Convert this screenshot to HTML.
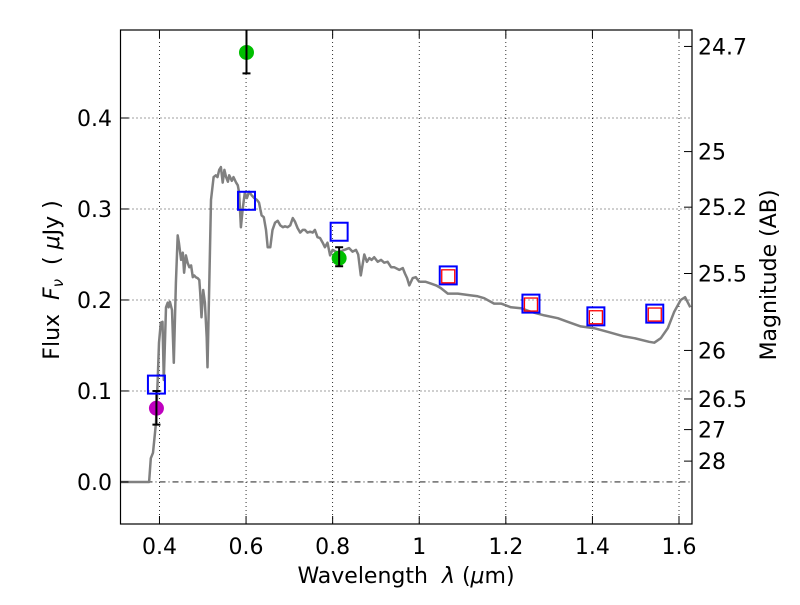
<!DOCTYPE html>
<html><head><meta charset="utf-8"><style>
body{margin:0;background:#fff;}
svg text{font-family:"DejaVu Sans","Liberation Sans",sans-serif;fill:#000;white-space:pre;}
</style></head><body>
<svg id="chart" width="800" height="600" xmlns="http://www.w3.org/2000/svg">
<rect x="0" y="0" width="800" height="600" fill="#fff"/>
<g id="grid"></g>
<g id="spec"></g>
<g id="marks"></g>
<rect x="120.5" y="30" width="571.5" height="494" fill="none" stroke="#000" stroke-width="1.2"/>
<g id="ticks"></g>
<text x="406" y="583" font-size="22" text-anchor="middle">Wavelength  <tspan font-style="italic">λ</tspan> (<tspan font-style="italic">μ</tspan>m)</text>
<text transform="translate(59,280) rotate(-90)" font-size="22" text-anchor="middle">Flux  <tspan font-style="italic">F</tspan><tspan font-style="italic" font-size="15" dy="4">ν</tspan><tspan dy="-4">  ( </tspan><tspan font-style="italic">μ</tspan>Jy )</text>
<text transform="translate(776,275) rotate(-90)" font-size="22" text-anchor="middle">Magnitude (AB)</text>
</svg>
<script>
const xTicks=[0.4,0.6,0.8,1.0,1.2,1.4,1.6];
const xTickLabels=["0.4","0.6","0.8","1","1.2","1.4","1.6"];
const yTicks=[0.0,0.1,0.2,0.3,0.4];
const yTickLabels=["0.0","0.1","0.2","0.3","0.4"];
const magTicks=[24.7,25,25.2,25.5,26,26.5,27,28];
const magTickLabels=["24.7","25","25.2","25.5","26","26.5","27","28"];
const specWave=[0.31,0.376,0.380,0.385,0.392,0.396,0.399,0.403,0.407,0.410,0.415,0.419,0.421,0.424,0.429,0.433,0.438,0.442,0.445,0.450,0.454,0.457,0.461,0.465,0.469,0.473,0.477,0.480,0.484,0.488,0.492,0.494,0.497,0.501,0.505,0.509,0.511,0.515,0.519,0.525,0.530,0.534,0.538,0.542,0.546,0.550,0.554,0.558,0.561,0.567,0.571,0.577,0.581,0.584,0.588,0.592,0.597,0.602,0.607,0.613,0.619,0.625,0.630,0.636,0.641,0.646,0.650,0.656,0.661,0.667,0.673,0.679,0.685,0.690,0.696,0.702,0.708,0.713,0.719,0.725,0.731,0.736,0.742,0.748,0.754,0.759,0.765,0.771,0.777,0.782,0.788,0.794,0.800,0.812,0.827,0.838,0.846,0.854,0.859,0.865,0.873,0.879,0.885,0.890,0.896,0.904,0.912,0.919,0.927,0.935,0.942,0.954,0.962,0.967,0.972,0.977,0.985,0.992,1.000,1.015,1.027,1.039,1.050,1.066,1.089,1.104,1.119,1.135,1.150,1.173,1.189,1.212,1.235,1.258,1.289,1.320,1.343,1.373,1.404,1.435,1.473,1.497,1.531,1.543,1.558,1.574,1.589,1.604,1.614,1.626];
const specFlux=[0,0,0.026,0.032,0.065,0.112,0.153,0.175,0.176,0.112,0.192,0.197,0.192,0.198,0.189,0.131,0.219,0.271,0.263,0.244,0.252,0.230,0.249,0.241,0.236,0.238,0.225,0.227,0.225,0.224,0.222,0.208,0.181,0.211,0.197,0.159,0.126,0.219,0.310,0.335,0.337,0.335,0.343,0.346,0.329,0.343,0.335,0.330,0.337,0.331,0.335,0.329,0.326,0.318,0.280,0.299,0.318,0.312,0.319,0.315,0.312,0.310,0.307,0.293,0.291,0.277,0.258,0.258,0.277,0.285,0.287,0.282,0.280,0.281,0.280,0.282,0.290,0.286,0.279,0.274,0.277,0.277,0.274,0.275,0.274,0.277,0.269,0.268,0.263,0.258,0.263,0.249,0.255,0.252,0.255,0.257,0.253,0.255,0.250,0.227,0.250,0.242,0.246,0.244,0.247,0.242,0.244,0.241,0.242,0.236,0.236,0.233,0.235,0.229,0.224,0.216,0.224,0.225,0.220,0.220,0.218,0.216,0.213,0.207,0.207,0.206,0.205,0.204,0.202,0.196,0.196,0.192,0.191,0.187,0.183,0.180,0.176,0.171,0.169,0.165,0.160,0.158,0.154,0.153,0.158,0.169,0.187,0.200,0.203,0.192,0.180];
const obsWave=[0.393,0.601,0.815];
const obsFlux=[0.081,0.472,0.246];
const obsLow=[0.063,0.449,0.237];
const obsHigh=[0.100,0.500,0.258];
const obsColor=["#bf00bf","#00bf00","#00bf00"];
const modelWave=[0.393,0.601,0.815,1.067,1.258,1.408,1.544];
const modelFlux=[0.107,0.309,0.275,0.227,0.196,0.182,0.185];
const nirWave=[1.067,1.258,1.408,1.544];
const nirFlux=[0.226,0.195,0.181,0.184];

const X0=120.5,X1=692,XMIN=0.31,XMAX=1.63;
const Y0=524,Y1=30,YMIN=-0.0462,YMAX=0.4967;
const sx=v=>X0+(v-XMIN)/(XMAX-XMIN)*(X1-X0);
const sy=v=>Y0-(v-YMIN)/(YMAX-YMIN)*(Y0-Y1);
const magToFlux=m=>Math.pow(10,(23.9-m)/2.5);
const NS="http://www.w3.org/2000/svg";
function mk(parent,tag,attrs){const e=document.createElementNS(NS,tag);for(const k in attrs)e.setAttribute(k,attrs[k]);parent.appendChild(e);return e;}
const grid=document.getElementById('grid'),ticks=document.getElementById('ticks');
xTicks.forEach((t,i)=>{
  const x=sx(t);
  const g=mk(grid,'line',{x1:x,x2:x,y1:Y1,y2:Y0,stroke:'#000','stroke-width':0.8,'stroke-dasharray':'1,3'});
  
  
  mk(ticks,'line',{x1:x,x2:x,y1:Y0,y2:Y0-8,stroke:'#000','stroke-width':1});
  mk(ticks,'line',{x1:x,x2:x,y1:Y1,y2:Y1+8,stroke:'#000','stroke-width':1});
  const tx=mk(ticks,'text',{x:x,y:Y0+30,'font-size':22,'text-anchor':'middle'});
  tx.textContent=xTickLabels[i];
  
  
});
yTicks.forEach((t,i)=>{
  const y=sy(t);
  const g=mk(grid,'line',{x1:X0,x2:X1,y1:y,y2:y,stroke:'#000','stroke-width':0.8,'stroke-dasharray':t===0?'6,3,1,3':'1,3'});
  
  
  mk(ticks,'line',{x1:X0,x2:X0+8,y1:y,y2:y,stroke:'#000','stroke-width':1});
  const tx=mk(ticks,'text',{x:112,y:y+8,'font-size':22,'text-anchor':'end'});
  tx.textContent=yTickLabels[i];
  
  
});
magTicks.forEach((m,i)=>{
  const y=sy(magToFlux(m));
  mk(ticks,'line',{x1:X1-8,x2:X1,y1:y,y2:y,stroke:'#000','stroke-width':1});
  const tx=mk(ticks,'text',{x:698,y:y+8,'font-size':22});
  tx.textContent=magTickLabels[i];
  
  
});
const spec=document.getElementById('spec');
let d=specWave.map((w,i)=>(i?'L':'M')+sx(w).toFixed(1)+','+sy(specFlux[i]).toFixed(1)).join('');
const p=mk(spec,'path',{d:d,fill:'none',stroke:'#808080','stroke-width':2.5,'stroke-linejoin':'round'});


const marks=document.getElementById('marks');
const clip=mk(marks,'clipPath',{id:'pc'});mk(clip,'rect',{x:X0,y:Y1,width:X1-X0,height:Y0-Y1});
const mg=mk(marks,'g',{'clip-path':'url(#pc)'});
obsWave.forEach((w,i)=>{
  const x=sx(w);
  const c=mk(mg,'circle',{cx:x,cy:sy(obsFlux[i]),r:7.5,fill:obsColor[i]});
  
  
  const e=mk(mg,'path',{d:`M${x},${sy(obsLow[i])}V${sy(obsHigh[i])}M${x-4},${sy(obsLow[i])}H${x+4}M${x-4},${sy(obsHigh[i])}H${x+4}`,stroke:'#000','stroke-width':2,fill:'none'});
  
  
});
modelWave.forEach((w,i)=>{
  const r=mk(mg,'rect',{x:sx(w)-8.5,y:sy(modelFlux[i])-9,width:17,height:18,fill:'none',stroke:'#0000ff','stroke-width':2});
  
  
});
nirWave.forEach((w,i)=>{
  const r=mk(mg,'rect',{x:sx(w)-6.5,y:sy(nirFlux[i])-6.5,width:13,height:13,fill:'none',stroke:'#ff0000','stroke-width':1.3});
  
  
});
</script>
</body></html>
